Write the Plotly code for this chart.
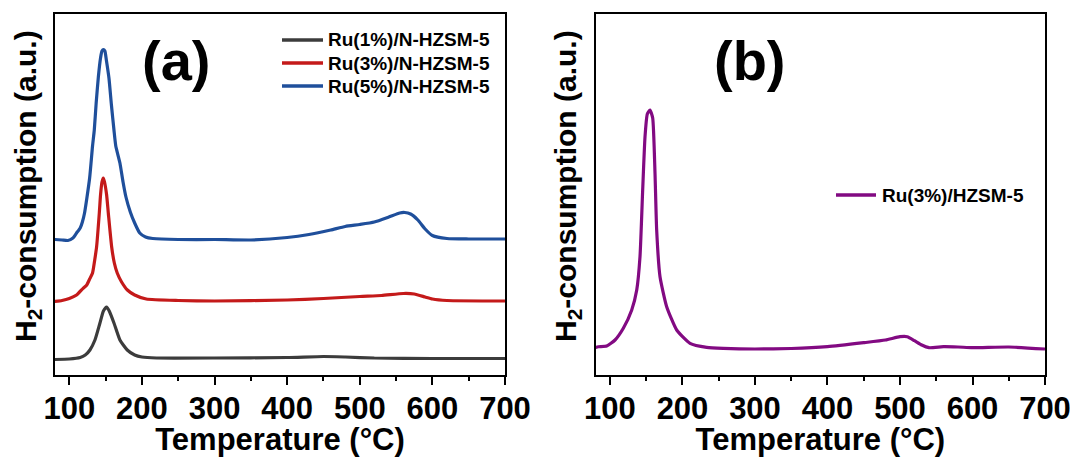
import plotly.graph_objects as go

# ---------------- data (temperature in °C, signal in a.u.) ----------------
t_ru1 = [80, 100, 115, 122, 128.4, 135.3, 142.2, 147, 151.4, 155, 161.5, 169.7, 179.8, 190, 200,
         220, 300, 400, 450, 480, 520, 600, 700]
y_ru1 = [15.5, 16, 17.5, 20, 25, 35, 52, 64, 68, 64, 52, 35, 25, 20, 18,
         17, 17, 17.5, 18.5, 18, 17, 16.5, 16.5]

t_ru3 = [80, 90, 100, 110, 119, 124, 128, 132, 135, 137.6, 141.3, 143, 145, 146.8, 148.5, 151.4,
         153.7, 158.3, 162, 166, 172, 180, 190, 206, 250, 300, 400, 450, 500, 530, 560, 575,
         590, 600, 620, 700]
y_ru3 = [73.5, 74.5, 76.5, 80, 86.7, 90, 96, 102, 115, 128.3, 162, 180, 193, 197, 193, 180,
         162, 128.3, 112, 102, 93, 85, 80, 76, 74.5, 74, 75, 76.5, 78.5, 79.5, 81.5, 81,
         78, 76, 74.5, 74]

t_ru5 = [80, 90, 98, 105, 110, 115, 118, 121, 124, 128, 132, 134.4, 137, 140, 143, 145, 147, 149,
         151, 154.6, 158, 161.5, 164, 169.7, 174, 178, 184, 190, 197, 205, 215, 250, 300, 350, 400, 430,
         460, 480, 500, 520, 540, 555, 562, 570, 580, 590, 600, 620, 650, 700]
y_ru5 = [135.5, 135, 134.5, 137, 142, 147, 153, 162, 176, 197, 229, 245, 272, 298, 317, 324, 325.5, 324,
         315, 297, 270, 245, 229, 212, 193, 178, 163, 152, 142, 138, 136.5, 135.5, 135.5, 135, 137.5, 140.5,
         145, 148.5, 150.5, 153, 158, 162, 162.5, 161, 155, 146, 139.5, 136.5, 136, 136]

t_hz = [80, 84, 95.5, 107, 118.4, 130, 136.9, 141.4, 145.1, 148.3, 151.5, 155.2, 158.9, 162.1, 164.4,
        169, 178.2, 192, 210.4, 233.4, 256.3, 300, 350, 400, 450, 480, 500, 510, 520, 530, 540,
        560, 580, 600, 650, 700]
y_hz = [27.5, 28.3, 29, 35, 46.7, 65, 85, 118.3, 185, 238, 261, 265, 257, 201.7, 145,
        98.3, 68.3, 45, 31.7, 27.7, 26.7, 26, 26.5, 28.3, 32.3, 35, 38.3, 38.3, 34.3, 30, 27.3,
        28.3, 28, 27.3, 28, 26]

names_a = ["Ru(1%)/N-HZSM-5", "Ru(3%)/N-HZSM-5", "Ru(5%)/N-HZSM-5"]
name_b = "Ru(3%)/HZSM-5"
colors_a = ["#3c3c3c", "#c41a1a", "#1f4f9b"]
color_b = "#820a82"

x_ticks = [100, 200, 300, 400, 500, 600, 700]
y_title = "H<sub>2</sub>-consumption (a.u.)"
x_title = "Temperature (°C)"

FONT = "Liberation Sans, Arial, sans-serif"

fig = go.Figure()
for t, y, n, c in zip([t_ru1, t_ru3, t_ru5], [y_ru1, y_ru3, y_ru5], names_a, colors_a):
    fig.add_trace(go.Scatter(x=t, y=y, name=n, mode="lines",
                             line=dict(color=c, width=3.2, shape="spline", smoothing=0.5),
                             xaxis="x", yaxis="y", showlegend=False))
fig.add_trace(go.Scatter(x=t_hz, y=y_hz, name=name_b, mode="lines",
                         line=dict(color=color_b, width=3.2, shape="spline", smoothing=0.5),
                         xaxis="x2", yaxis="y2", showlegend=False))

# the page body adds an 8px margin, so the figure is made 8px smaller and
# all layout positions below are given in window pixels and shifted back
OFF = 8
W, H = 1078 - OFF, 457 - OFF
PL, PR, PT, PB = 55, 1045, 14, 375          # plot frame in window pixels
ml, mt = PL - OFF, PT - OFF
mr, mb = W - (PR - OFF), H - (PB - OFF)
iw = W - ml - mr
ih = H - mt - mb


def px(x):
    return (x - PL) / iw


def py(y):
    return (PB - y) / ih


xcommon = dict(range=[80.3, 700], tickvals=x_ticks, ticks="outside", ticklen=8, tickwidth=2,
               tickcolor="black", showline=True, mirror=True, linecolor="black", linewidth=2,
               showgrid=False, zeroline=False, automargin=False, ticklabelstandoff=-3,
               minor=dict(dtick=50, tick0=0, ticks="outside", ticklen=4, tickwidth=2, tickcolor="black"),
               tickfont=dict(family=FONT, size=31, color="black", weight="bold"),
               title=dict(text=x_title, standoff=7,
                          font=dict(family=FONT, size=31, color="black", weight="bold")))
ycommon = dict(range=[0, 361], showticklabels=False, ticks="", showline=True, mirror=True,
               linecolor="black", linewidth=2, showgrid=False, zeroline=False, automargin=False)

shapes = []
annotations = []
# y-axis titles
for xc in (27, 567):
    annotations.append(dict(text=y_title, xref="paper", yref="paper", x=px(xc), y=py(186),
                            xanchor="center", yanchor="middle", textangle=-90, showarrow=False,
                            font=dict(family=FONT, size=30, color="black", weight="bold")))

# legend drawn as line samples + text labels
leg_rows_a = [40, 63, 86]
for n, c, yy in zip(names_a, colors_a, leg_rows_a):
    shapes.append(dict(type="line", xref="paper", yref="paper", x0=px(282), x1=px(323),
                       y0=py(yy), y1=py(yy), line=dict(color=c, width=3.5)))
    annotations.append(dict(text=n, xref="paper", yref="paper", x=px(326), y=py(yy),
                            xanchor="left", yanchor="middle", showarrow=False,
                            font=dict(family=FONT, size=19, color="black", weight="bold")))
shapes.append(dict(type="line", xref="paper", yref="paper", x0=px(836), x1=px(876),
                   y0=py(195), y1=py(195), line=dict(color=color_b, width=3.5)))
annotations.append(dict(text=name_b, xref="paper", yref="paper", x=px(880), y=py(195),
                        xanchor="left", yanchor="middle", showarrow=False,
                        font=dict(family=FONT, size=19, color="black", weight="bold")))

annotations += [
    dict(text="(a)", xref="paper", yref="paper", x=px(175.5), y=py(60),
         xanchor="center", yanchor="middle", showarrow=False,
         font=dict(family=FONT, size=56, color="black", weight="bold")),
    dict(text="(b)", xref="paper", yref="paper", x=px(750), y=py(60),
         xanchor="center", yanchor="middle", showarrow=False,
         font=dict(family=FONT, size=56, color="black", weight="bold")),
]

fig.update_layout(
    width=W, height=H,
    margin=dict(l=ml, r=mr, t=mt, b=mb),
    paper_bgcolor="white", plot_bgcolor="white",
    showlegend=False,
    xaxis=dict(domain=[0, px(505)], anchor="y", **xcommon),
    yaxis=dict(domain=[0, 1], anchor="x", **ycommon),
    xaxis2=dict(domain=[px(595.7), 1], anchor="y2", **xcommon),
    yaxis2=dict(domain=[0, 1], anchor="x2", **ycommon),
    shapes=shapes,
    annotations=annotations,
)

fig.write_html("out.html")
